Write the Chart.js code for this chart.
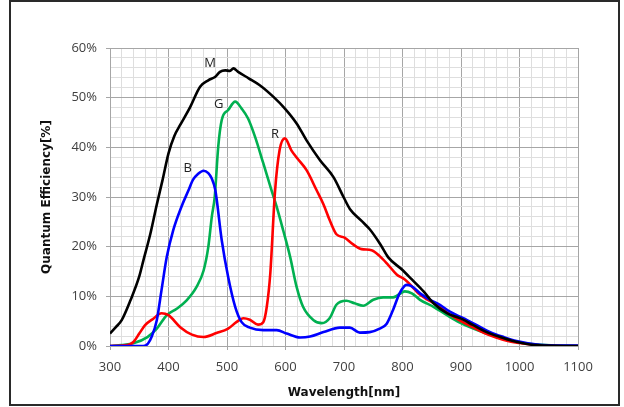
<!DOCTYPE html>
<html lang="en">
<head>
  <meta charset="UTF-8" />
  <title>Quantum Efficiency</title>
  <script src="https://cdn.jsdelivr.net/npm/chart.js"></script>
  <style>
    html, body { margin: 0; padding: 0; background: #fff; }
    #wrap { position: relative; width: 624px; height: 407px; }
    #frame { position: absolute; left: 9px; top: 0px; width: 607px; height: 402px; border: 2px solid #2a2a2a; pointer-events: none; }
  </style>
</head>
<body>
<div id="wrap">
  <canvas id="qeChart" width="624" height="407"></canvas>
  <div id="frame"></div>
</div>

<script>
// M (mono) curve
const mNm = [300,310,320,335,350,357,369,380,390,400,410,420,437,454,468,480,488,497,505,511,519,537,556,579,599,619,636,659,682,700,710,730,744,762,776,799,816,836,853,876,898,921,944,967,989,1018,1047,1075,1100];
const mQe = [2.5,3.8,5.2,9.2,14.0,17.2,22.6,28.5,33.5,38.8,42.3,44.5,48.1,52.2,53.5,54.2,55.2,55.5,55.4,55.9,55.2,53.9,52.5,50.2,47.8,44.8,41.4,37.4,34.0,29.8,27.6,25.2,23.5,20.5,17.8,15.4,13.4,11.0,8.6,6.6,5.6,4.2,2.8,1.8,1.0,0.3,0.07,0,0];

// R curve
const rNm = [300,330,340,350,360,374,388,400,420,440,460,482,502,516,528,539,553,562,568,574,582,590,599,610,620,636,653,665,676,687,701,715,730,747,761,775,790,804,816,827,839,860,880,900,920,940,960,980,1000,1030,1060,1100];
const rQe = [0,0.2,0.8,2.5,4.2,5.5,6.6,6.2,3.8,2.3,1.8,2.6,3.5,4.8,5.6,5.3,4.3,4.8,7.9,14.6,31.0,39.5,41.8,39.4,37.8,35.4,31.4,28.5,25.2,22.5,21.8,20.5,19.5,19.3,18.1,16.4,14.4,13.4,12.0,10.6,9.6,8.2,6.4,5.0,3.8,2.6,1.7,1.0,0.6,0.2,0.05,0];

// G curve
const gNm = [300,320,341,364,380,397,414,431,448,460,468,474,479,485,491,502,514,525,536,548,562,576,585,596,608,619,630,648,662,676,687,704,718,733,750,767,784,804,816,830,853,876,898,921,944,973,995,1030,1075,1100];
const gQe = [0,0.2,0.6,1.8,3.5,6.2,7.5,9.2,11.9,15.2,19.9,26.0,30.0,40.1,45.5,47.5,49.2,47.8,45.8,42.1,36.8,31.4,28.0,23.3,17.9,11.9,7.9,5.2,4.6,5.7,8.3,9.1,8.6,8.1,9.3,9.8,9.8,11.0,10.6,9.3,7.9,6.2,4.7,3.5,2.5,1.5,0.8,0.3,0.07,0];

// B curve
const bNm = [300,357,365,371,380,388,397,408,422,434,442,450,460,468,474,480,491,502,514,525,539,562,585,602,625,642,665,693,710,727,744,761,773,784,795,807,816,830,847,864,881,904,927,950,973,995,1030,1075,1100];
const bQe = [0,0,0.5,1.8,5.2,11.2,17.9,23.3,28.0,31.3,33.5,34.6,35.3,34.8,33.7,31.4,21.3,13.9,7.9,4.8,3.7,3.2,3.2,2.5,1.7,1.9,2.8,3.7,3.7,2.7,2.8,3.5,4.5,7.3,10.6,12.3,12.0,10.6,9.3,8.3,6.9,5.6,4.2,2.8,1.8,1.0,0.3,0.1,0.1];

// curve labels
const labelText = ['M', 'G', 'R', 'B'];
const labelNm = [471, 486, 582, 433];
const labelQe = [57.0, 48.7, 42.7, 35.8];

function pts(xs, ys) { return xs.map((x, i) => ({ x: x, y: ys[i] })); }

const curveLabels = {
  id: 'curveLabels',
  afterDatasetsDraw(chart) {
    const ctx = chart.ctx, xs = chart.scales.x, ys = chart.scales.y;
    ctx.save();
    ctx.font = '13px "Open Sans", sans-serif';
    ctx.fillStyle = '#222';
    ctx.textAlign = 'center';
    ctx.textBaseline = 'middle';
    labelText.forEach((t, i) => ctx.fillText(t, xs.getPixelForValue(labelNm[i]), ys.getPixelForValue(labelQe[i])));
    ctx.restore();
  }
};

const line = (data, color) => ({ data: data, borderColor: color, borderWidth: 2.6, pointRadius: 0, fill: false, cubicInterpolationMode: 'monotone' });

new Chart(document.getElementById('qeChart'), {
  type: 'line',
  data: {
    datasets: [
      line(pts(mNm, mQe), '#000000'),
      line(pts(bNm, bQe), '#0000ff'),
      line(pts(rNm, rQe), '#ff0000'),
      line(pts(gNm, gQe), '#00b050')
    ]
  },
  options: {
    responsive: false,
    animation: false,
    layout: { padding: { left: 36, top: 48, right: 46, bottom: 0 } },
    plugins: { legend: { display: false }, tooltip: { enabled: false } },
    scales: {
      x: {
        type: 'linear', min: 300, max: 1100,
        afterFit(s) { s.height = 61; },
        ticks: {
          stepSize: 20, autoSkip: false, maxRotation: 0, padding: 9,
          maxTicksLimit: 100,
          color: '#404040', font: { family: '"Open Sans", sans-serif', size: 13 },
          callback: v => (v % 100 === 0 ? String(v) : '')
        },
        grid: {
          color: c => (c.tick && c.tick.value % 100 === 0 ? '#a6a6a6' : '#dedede'),
          tickColor: c => (c.tick && c.tick.value % 100 === 0 ? '#a6a6a6' : 'rgba(0,0,0,0)'),
          tickLength: 4
        },
        border: { color: '#a6a6a6' },
        title: { display: true, text: 'Wavelength[nm]', color: '#111', padding: { top: 0, bottom: 7 },
          font: { family: '"DejaVu Sans", sans-serif', size: 12, weight: 'bold' } }
      },
      y: {
        min: 0, max: 60,
        afterFit(s) { s.width = 74; },
        ticks: {
          stepSize: 2, autoSkip: false, padding: 9, maxTicksLimit: 100,
          color: '#404040', font: { family: '"Open Sans", sans-serif', size: 13 },
          callback: v => (v % 10 === 0 ? v + '%' : '')
        },
        grid: {
          color: c => (c.tick && c.tick.value % 10 === 0 ? '#a6a6a6' : '#dedede'),
          tickColor: c => (c.tick && c.tick.value % 10 === 0 ? '#a6a6a6' : 'rgba(0,0,0,0)'),
          tickLength: 4
        },
        border: { color: '#a6a6a6' },
        title: { display: true, text: 'Quantum Efficiency[%]', color: '#111', padding: { top: 4, bottom: 0 },
          font: { family: '"DejaVu Sans", sans-serif', size: 12, weight: 'bold' } }
      }
    }
  },
  plugins: [curveLabels]
});
</script>
</body>
</html>
